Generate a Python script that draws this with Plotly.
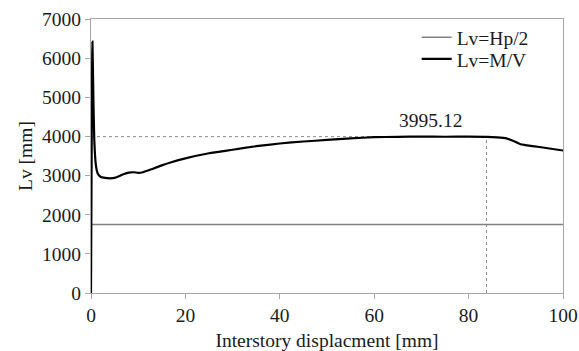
import plotly.graph_objects as go

# Data
disp_mv = [0, 0.3, 0.5, 0.7, 1.0, 1.4, 2.0, 3, 4, 5, 6, 7, 8, 9, 10, 11, 13, 15, 17, 20,
           25, 30, 35, 40, 45, 50, 55, 60, 65, 70, 75, 80, 84, 86, 88, 89, 90, 91, 92, 95, 100]
lv_mv = [0, 6420, 5000, 3900, 3300, 3060, 2970, 2940, 2930, 2940, 2990, 3040, 3075, 3085, 3070,
         3085, 3170, 3260, 3340, 3440, 3570, 3660, 3750, 3820, 3870, 3910, 3950, 3980, 3990,
         3995, 3992, 3995, 3990, 3975, 3950, 3910, 3860, 3800, 3780, 3730, 3640]

disp_hp = [0, 100]
lv_hp = [1750, 1750]

peak_x = 83.8
peak_y = 3995.12
peak_label = "3995.12"
label_x = 72.0

x_ticks = [0, 20, 40, 60, 80, 100]
y_ticks = [0, 1000, 2000, 3000, 4000, 5000, 6000, 7000]

FONT = "Liberation Serif, Times New Roman, serif"
TXT = "#1a1a1a"
AX = "#a6a6a6"
F = dict(family=FONT, size=19.5, color=TXT)

fig = go.Figure()

# reference dotted lines to the peak
fig.add_trace(go.Scatter(x=[0, peak_x], y=[peak_y, peak_y], mode="lines",
                         line=dict(color="#8c8c8c", width=1, dash="dot"),
                         showlegend=False, hoverinfo="skip"))
fig.add_trace(go.Scatter(x=[peak_x, peak_x], y=[0, peak_y], mode="lines",
                         line=dict(color="#8c8c8c", width=1, dash="dot"),
                         showlegend=False, hoverinfo="skip"))

fig.add_trace(go.Scatter(x=disp_hp, y=lv_hp, mode="lines", name="Lv=Hp/2",
                         line=dict(color="#808080", width=1.5), legend="legend"))
fig.add_trace(go.Scatter(x=disp_mv, y=lv_mv, mode="lines", name="Lv=M/V",
                         line=dict(color="#000000", width=2.2, shape="spline", smoothing=0.5),
                         legend="legend2"))

fig.add_annotation(x=label_x, y=peak_y, text=peak_label, showarrow=False,
                   yanchor="bottom", yshift=4, font=F)

leg_common = dict(xanchor="left", yanchor="middle", bgcolor="rgba(0,0,0,0)", font=F,
                  itemwidth=30, borderwidth=0)

fig.update_layout(
    width=579, height=351,
    margin=dict(l=91, r=16, t=19, b=58, autoexpand=False),
    paper_bgcolor="white", plot_bgcolor="white",
    font=F,
    showlegend=True,
    legend=dict(x=0.69, y=0.932, **leg_common),
    legend2=dict(x=0.69, y=0.853, **leg_common),
    xaxis=dict(range=[0, 100], tickvals=x_ticks, showgrid=False, zeroline=False,
               showline=True, linecolor=AX, linewidth=1, mirror=True,
               ticks="outside", ticklen=5, tickcolor=AX, tickfont=F, automargin=False,
               title=dict(text="Interstory displacment [mm]", standoff=12, font=F)),
    yaxis=dict(range=[0, 7000], tickvals=y_ticks, showgrid=False, zeroline=False,
               showline=True, linecolor=AX, linewidth=1, mirror=True,
               ticks="outside", ticklen=5, tickcolor=AX, tickfont=F, automargin=False,
               ticksuffix="\u00a0\u00a0",
               title=dict(text="Lv [mm]", standoff=4, font=F)),
)

fig.write_html("out.html")
